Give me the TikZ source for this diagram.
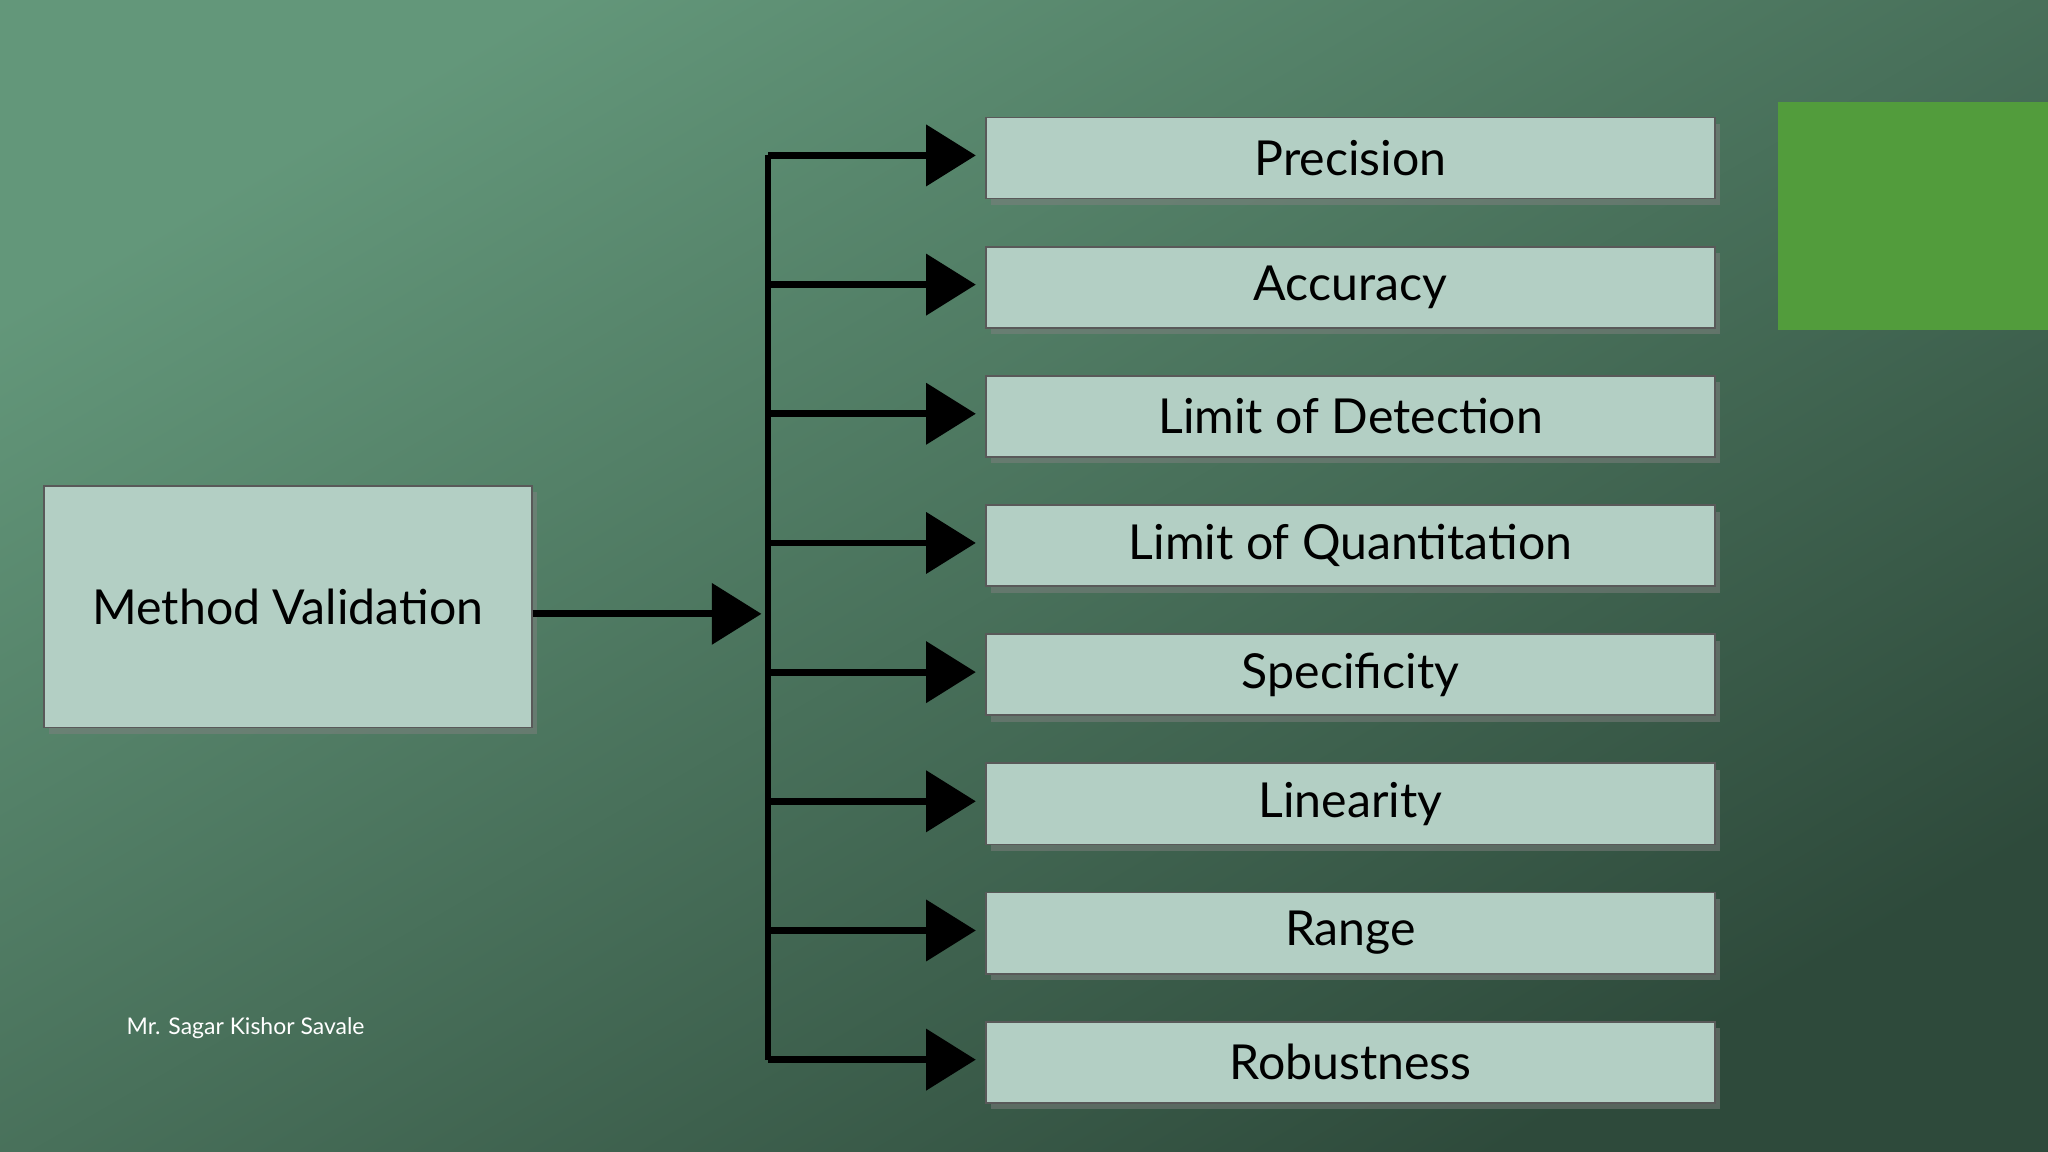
\documentclass[tikz,border=0pt]{standalone}
\usepackage{fontspec}
\setmainfont{Lato}
\usetikzlibrary{positioning,arrows.meta,shadows}
\definecolor{boxfill}{HTML}{B3CFC4}
\definecolor{bgtl}{HTML}{63977A}
\definecolor{bgbr}{HTML}{2E4A3B}
\definecolor{sqgreen}{HTML}{529C3C}
\tikzset{
  item/.style={draw=gray!70!black, fill=boxfill, minimum width=5.58cm, minimum height=0.62cm,
    drop shadow={shadow xshift=0.04cm, shadow yshift=-0.05cm, opacity=0.5},
    font=\fontsize{10.5}{12}\selectfont, inner sep=0pt},
  link/.style={line width=1.5pt, -{Triangle[length=0.38cm,width=0.46cm]}}
}
\begin{document}
\begin{tikzpicture}[x=0.01cm,y=-0.01cm]
  % background
  \shade[top color=bgtl, bottom color=bgbr, shading angle=30] (0,0) rectangle (1568,882);
  \useasboundingbox (0,0) rectangle (1568,882);
  \fill[sqgreen] (1361,78) rectangle (1568,253);
  % main box
  \node[item, minimum width=3.73cm, minimum height=1.85cm] (mv) at (220.5,464.5) {Method Validation};
  \coordinate (hub) at (588,470);
  \draw[link] (mv.east |- hub) -- ([xshift=-0.05cm]hub);
  % items
  \foreach \name/\lbl [count=\i] in {prec/Precision, acc/Accuracy, lod/Limit of Detection,
      loq/Limit of Quantitation, spec/Specificity, lin/Linearity, rng/Range, rob/Robustness}{
    \node[item] (\name) at (1034,{121+98.9*(\i-1)}) {\lbl};
    \coordinate (b\i) at (588,{119+98.9*(\i-1)});
    \draw[link] (b\i) -- ([xshift=-0.07cm]\name.west |- b\i);
  }
  \draw[line width=1.5pt] (b1) -- (b8);
  \node[text=white, font=\fontsize{5}{6}\selectfont] (author) at (188,787) {Mr. Sagar Kishor Savale};
\end{tikzpicture}
\end{document}
